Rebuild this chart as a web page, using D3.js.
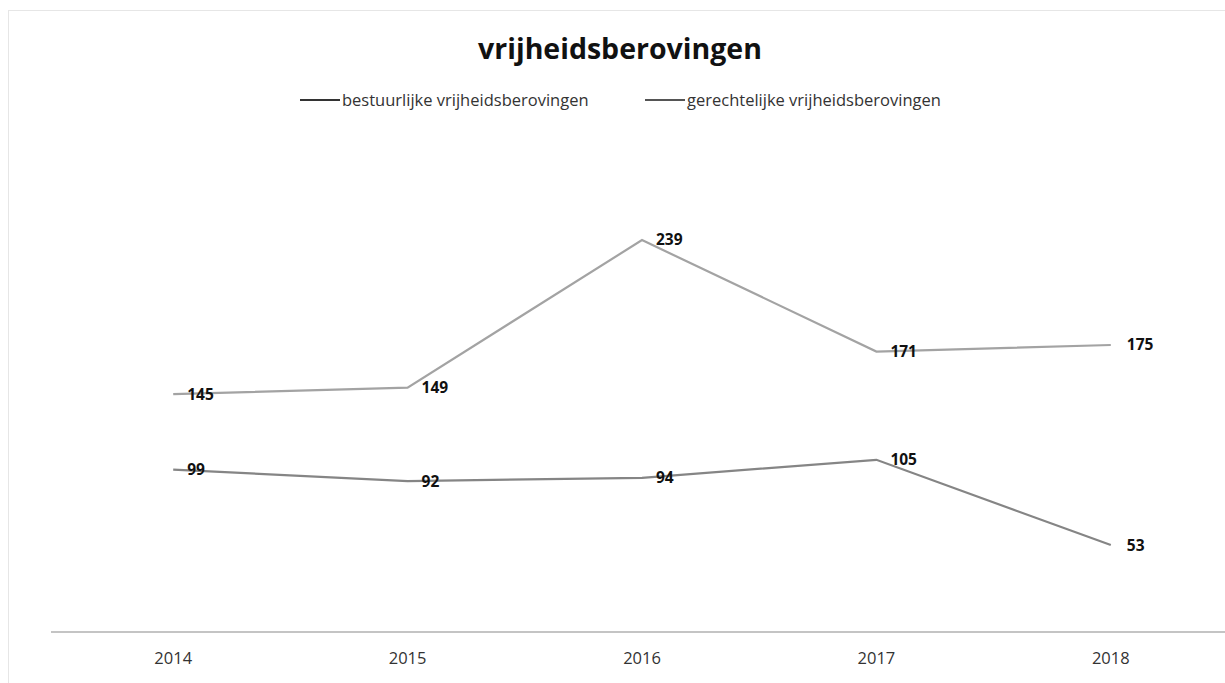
<!DOCTYPE html>
<html><head><meta charset="utf-8">
<script src="https://cdn.jsdelivr.net/npm/d3@7"></script>
<style>body{margin:0;background:#fff}svg{display:block}</style>
</head><body>
<svg id="c" width="1225" height="683"></svg>
<script>
const years = ["2014","2015","2016","2017","2018"];
const bestuurlijk = [99, 92, 94, 105, 53];
const gerechtelijk = [145, 149, 239, 171, 175];
const seriesNames = ["bestuurlijke vrijheidsberovingen","gerechtelijke vrijheidsberovingen"];
const seriesColors = ["#858585","#a3a3a3"];
const title = "vrijheidsberovingen";

const svg = d3.select("#c");
const font = "'Open Sans', Lato, sans-serif";

svg.append("rect").attr("x",8.5).attr("y",10.5).attr("width",1230).attr("height",700)
  .attr("fill","none").attr("stroke","#e6e6e6").attr("stroke-width",1);

const x = d3.scaleBand().domain(years).range([56,1228]).padding(0);
const y = d3.scaleLinear().domain([0,300]).range([632,140]);

// axis
const xAxis = svg.append("g").attr("transform","translate(0,632)")
  .call(d3.axisBottom(x).tickSize(0).tickPadding(20));
xAxis.select(".domain").attr("stroke","#c4c4c4").attr("stroke-width",2).attr("d","M51,0H1225");
xAxis.selectAll("text").attr("font-family",font).attr("font-size",16.5).attr("fill","#333");

const data = [bestuurlijk, gerechtelijk];
const line = d3.line().x((d,i)=>x(years[i])+x.bandwidth()/2).y(d=>y(d));

data.forEach((vals,si)=>{
  svg.append("path").datum(vals).attr("d",line).attr("fill","none")
    .attr("stroke",seriesColors[si]).attr("stroke-width",2.2).attr("stroke-linejoin","miter");
  svg.append("g").selectAll("text").data(vals).join("text")
    .attr("x",(d,i)=>x(years[i])+x.bandwidth()/2 + (i===4?16:14))
    .attr("y",d=>y(d))
    .attr("dy","0.35em")
    .attr("font-family",font).attr("font-weight","bold").attr("font-size",15.5)
    .attr("fill","#111").text(d=>d);
});

// title
svg.append("text").attr("x",620).attr("y",59).attr("text-anchor","middle")
  .attr("font-family",font).attr("font-weight","bold").attr("font-size",28.5).attr("fill","#111")
  .text(title);

// legend
const legX = [300, 645];
seriesNames.forEach((n,i)=>{
  svg.append("line").attr("x1",legX[i]).attr("x2",legX[i]+40).attr("y1",100).attr("y2",100)
    .attr("stroke", i===0?"#333":"#555").attr("stroke-width",2);
  svg.append("text").attr("x",legX[i]+42).attr("y",100).attr("dy","0.35em")
    .attr("font-family",font).attr("font-size",16.5).attr("fill","#333").text(n);
});
</script>
</body></html>
